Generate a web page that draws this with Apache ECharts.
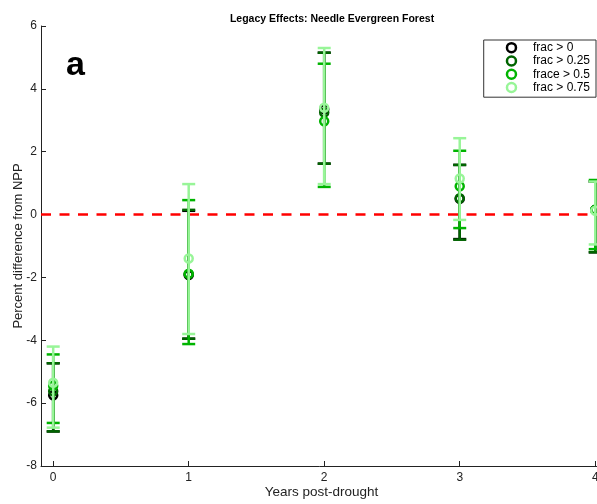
<!DOCTYPE html>
<html>
<head>
<meta charset="utf-8">
<script src="https://cdn.jsdelivr.net/npm/echarts@6/dist/echarts.min.js"></script>
<style>html,body{margin:0;padding:0;background:#fff}#c{width:597px;height:504px}</style>
</head>
<body>
<div id="c"></div>
<script>
var years = [0, 1, 2, 3, 4];
var seriesNames = ['frac > 0', 'frac > 0.25', 'frace > 0.5', 'frac > 0.75'];
var colors = ['#000000', '#006400', '#00b400', '#98f598'];
// means
var mean0  = [-5.75, -1.92, 3.35, 0.50, 0.15];
var mean25 = [-5.62, -1.90, 3.25, 0.52, 0.15];
var mean5  = [-5.45, -1.88, 2.97, 0.90, 0.15];
var mean75 = [-5.35, -1.40, 3.40, 1.15, 0.12];
// lower bounds
var low0  = [-6.90, -3.95, 1.62, -0.78, -1.20];
var low25 = [-6.90, -3.95, 1.62, -0.80, -1.20];
var low5  = [-6.63, -4.12, 0.88, -0.43, -1.10];
var low75 = [-6.78, -3.80, 0.97, -0.17, -0.95];
// upper bounds
var high0  = [-4.73, 0.12, 5.15, 1.58, 1.05];
var high25 = [-4.73, 0.15, 5.15, 1.58, 1.05];
var high5  = [-4.45, 0.46, 4.80, 2.03, 1.10];
var high75 = [-4.20, 0.97, 5.30, 2.43, 1.05];
var yTicks = [-8, -6, -4, -2, 0, 2, 4, 6];

var means = [mean0, mean25, mean5, mean75];
var lows = [low0, low25, low5, low75];
var highs = [high0, high25, high5, high75];

function makeData(k) {
  return years.map(function (x, i) { return [x, means[k][i], lows[k][i], highs[k][i]]; });
}

var FONT = 'Liberation Sans';

function renderItem(color) {
  return function (params, api) {
    var x = api.value(0);
    var pm = api.coord([x, api.value(1)]);
    var pl = api.coord([x, api.value(2)]);
    var ph = api.coord([x, api.value(3)]);
    var hw = 6.5;
    var st = { stroke: color, lineWidth: 2.5, fill: null };
    return {
      type: 'group',
      children: [
        { type: 'line', shape: { x1: pl[0], y1: pl[1], x2: ph[0], y2: ph[1] }, style: st },
        { type: 'line', shape: { x1: pl[0] - hw, y1: pl[1], x2: pl[0] + hw, y2: pl[1] }, style: st },
        { type: 'line', shape: { x1: ph[0] - hw, y1: ph[1], x2: ph[0] + hw, y2: ph[1] }, style: st },
        { type: 'circle', shape: { cx: pm[0], cy: pm[1], r: 4 }, style: { stroke: color, lineWidth: 2.5, fill: null } }
      ]
    };
  };
}

var series = seriesNames.map(function (n, k) {
  return {
    name: n,
    type: 'custom',
    renderItem: renderItem(colors[k]),
    data: makeData(k),
    encode: { x: 0, y: [1, 2, 3] },
    itemStyle: { color: colors[k] },
    z: 3 + k,
    clip: false
  };
});
series.unshift({
  type: 'line',
  data: [],
  silent: true,
  z: 2,
  markLine: {
    silent: true,
    symbol: 'none',
    label: { show: false },
    lineStyle: { color: '#ff0000', type: [10, 8.5], width: 2.5 },
    data: [{ yAxis: 0 }]
  }
});

var chart = echarts.init(document.getElementById('c'), null, { renderer: 'canvas' });
chart.setOption({
  backgroundColor: '#ffffff',
  animation: false,
  title: {
    text: 'Legacy Effects: Needle Evergreen Forest',
    left: 327, top: 9, textAlign: 'center',
    textStyle: { fontFamily: FONT, fontSize: 10.5, fontWeight: 'bold', color: '#000' }
  },
  graphic: [{
    type: 'text', left: 66, top: 49,
    style: { text: 'a', fontFamily: FONT, fontSize: 34, fontWeight: 'bold', fill: '#000' }
  }],
  legend: {
    orient: 'vertical',
    right: 1, top: 40,
    backgroundColor: '#fff',
    borderColor: '#333', borderWidth: 1,
    padding: [1, 6, 3, 22],
    itemWidth: 33, itemHeight: 9, itemGap: 0,
    symbolKeepAspect: true,
    textStyle: { fontFamily: FONT, fontSize: 12, color: '#000', lineHeight: 13.3 },
    data: seriesNames.map(function (n, k) {
      return { name: n, icon: 'circle', itemStyle: { color: 'transparent', borderColor: colors[k], borderWidth: 2.5 } };
    })
  },
  grid: { left: 41, top: 26, width: 561, height: 440, containLabel: false, outerBoundsMode: 'none' },
  xAxis: {
    type: 'value', min: -0.09, max: 4.05,
    name: 'Years post-drought', nameLocation: 'middle', nameGap: 19, nameMoveOverlap: false,
    nameTextStyle: { fontFamily: FONT, fontSize: 13.5, color: '#222' },
    axisLine: { show: true, onZero: false, lineStyle: { color: '#222', width: 1 } },
    axisTick: { show: true, inside: true, length: 5, lineStyle: { color: '#222' }, customValues: years },
    axisLabel: { fontFamily: FONT, fontSize: 12, color: '#222', margin: 6, customValues: years, showMinLabel: true, showMaxLabel: true },
    splitLine: { show: false }
  },
  yAxis: {
    type: 'value', min: -8, max: 6, interval: 2,
    name: 'Percent difference from NPP', nameLocation: 'middle', nameGap: 16.5, nameMoveOverlap: false,
    nameTextStyle: { fontFamily: FONT, fontSize: 13, color: '#222' },
    axisLine: { show: true, onZero: false, lineStyle: { color: '#222', width: 1 } },
    axisTick: { show: true, inside: true, length: 5, lineStyle: { color: '#222' } },
    axisLabel: { fontFamily: FONT, fontSize: 12, color: '#222', margin: 4,
      formatter: function (v) { return yTicks.indexOf(v) >= 0 ? String(v) : ''; } },
    splitLine: { show: false }
  },
  series: series
});
</script>
</body>
</html>
